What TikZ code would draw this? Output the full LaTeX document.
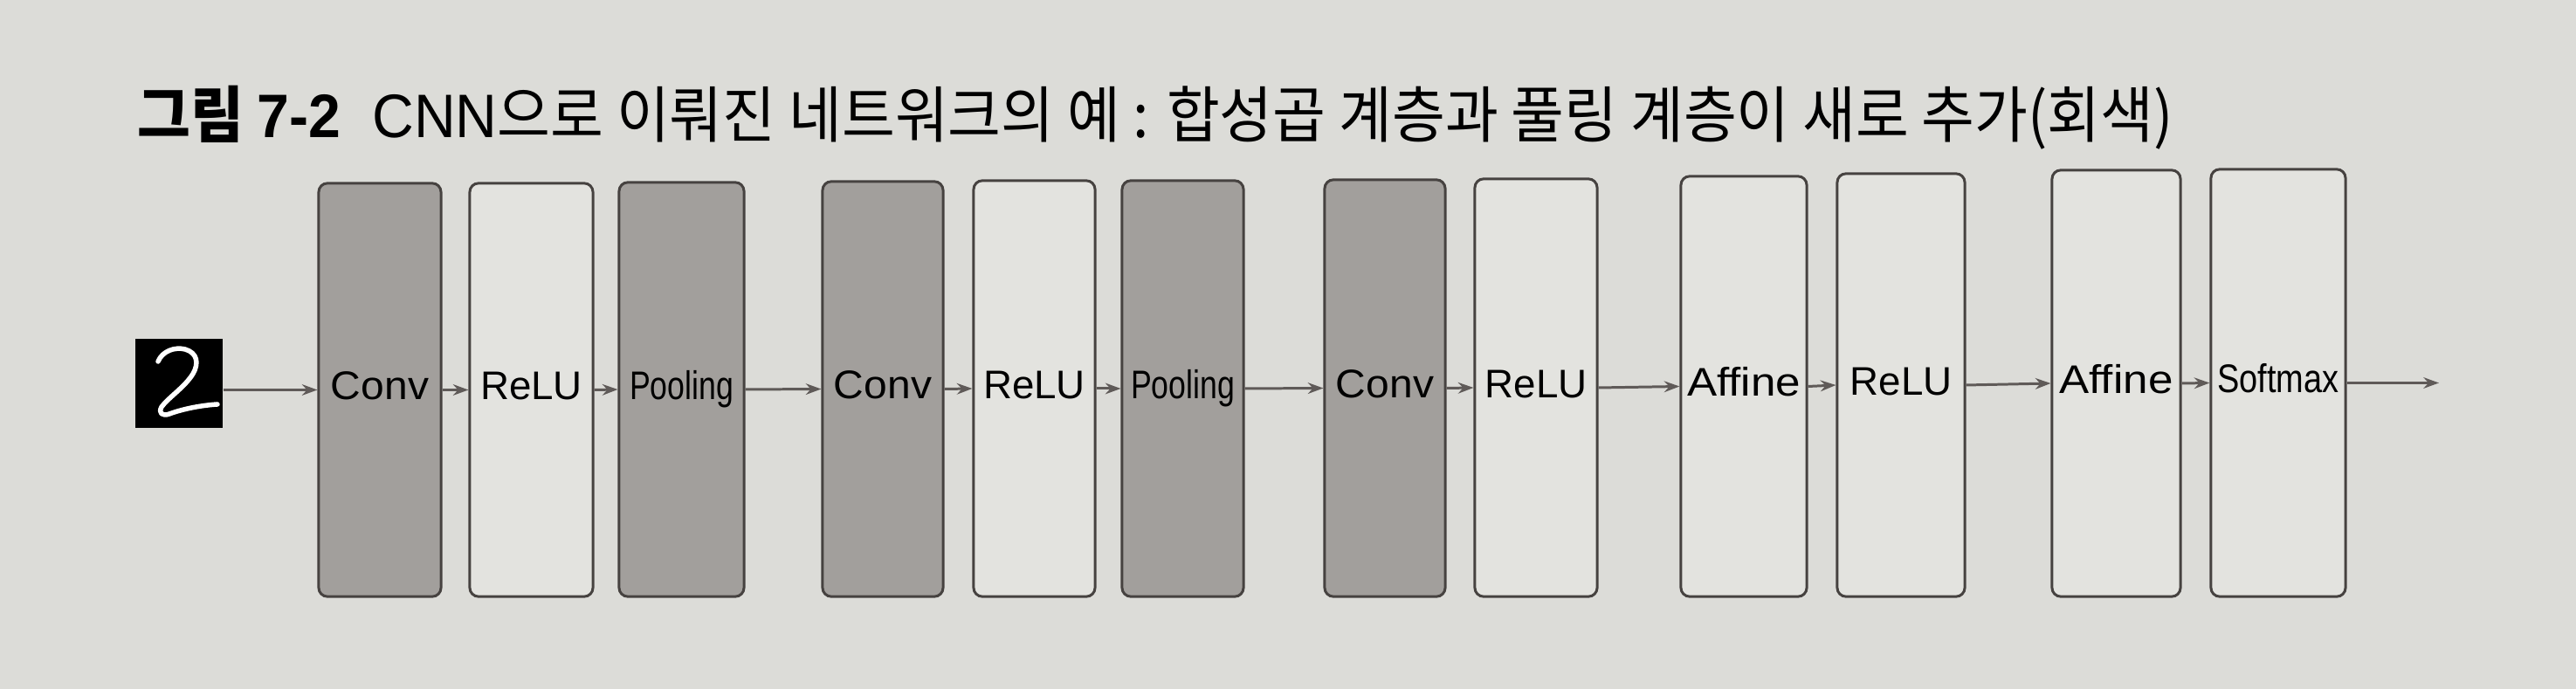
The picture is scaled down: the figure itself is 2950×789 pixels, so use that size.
\documentclass[tikz,border=0pt]{standalone}
\usepackage{fontspec}
\usetikzlibrary{arrows.meta}
\newfontfamily\krfont{Noto Sans CJK KR}
\newfontfamily\labfont{Liberation Sans}[Ligatures=NoCommon]
\definecolor{paper}{RGB}{220,220,216}
\definecolor{shade}{RGB}{162,159,156}
\definecolor{pale}{RGB}{227,227,223}
\definecolor{edge}{RGB}{70,66,64}
\definecolor{wire}{RGB}{95,90,88}
\tikzset{
  layer/.style={draw=edge, line width=0.85pt, rounded corners=0.1cm, inner sep=0pt,
    text height=9.75pt, text depth=3.25pt, font=\labfont\fontsize{13pt}{15pt}\selectfont},
  graylayer/.style={layer, fill=shade},
  whitelayer/.style={layer, fill=pale},
  link/.style={draw=wire, line width=0.85pt, -{Stealth[length=5pt,width=3.6pt]}},
}
\begin{document}
\begin{tikzpicture}[x=0.01cm, y=-0.01cm]
\fill[paper] (0,0) rectangle (2950,789);
\useasboundingbox (0,0) rectangle (2950,789);

\node[anchor=base west, inner sep=0pt] (title) at (157,158)
  {\resizebox{23.3cm}{\height}{\krfont\fontsize{20pt}{24pt}\selectfont
   {\bfseries 그림 {\labfont 7-2}}\hspace{0.55em}{\labfont CNN}으로 이뤄진 네트워크의 예 : 합성곱 계층과 풀링 계층이 새로 추가(회색)}};

% input image
\node[fill=black, inner sep=0pt, minimum width=1cm, minimum height=1.02cm] (in) at (205,439) {};
\draw[white, line width=0.055cm, line cap=round, line join=round]
  (181,414) .. controls (186,402) and (200,397) .. (212,400)
  .. controls (226,404) and (228,416) .. (221,428)
  .. controls (212,443) and (192,456) .. (185,466)
  .. controls (181,473) and (186,477) .. (194,474)
  .. controls (210,468) and (232,464) .. (249,463);

% layers
\node[graylayer, minimum width=1.40cm, minimum height=4.73cm] (c1) at (435,446.5) {\scalebox{1.05}[1]{Conv}};
\node[whitelayer, minimum width=1.41cm, minimum height=4.73cm] (r1) at (608.5,446.5) {ReLU};
\node[graylayer, minimum width=1.43cm, minimum height=4.74cm] (p1) at (780.5,446) {\scalebox{0.78}[1]{Pooling}};
\node[graylayer, minimum width=1.38cm, minimum height=4.75cm] (c2) at (1011,445.5) {\scalebox{1.05}[1]{Conv}};
\node[whitelayer, minimum width=1.39cm, minimum height=4.76cm] (r2) at (1184.5,445) {ReLU};
\node[graylayer, minimum width=1.39cm, minimum height=4.76cm] (p2) at (1354.5,445) {\scalebox{0.78}[1]{Pooling}};
\node[graylayer, minimum width=1.38cm, minimum height=4.77cm] (c3) at (1586,444.5) {\scalebox{1.05}[1]{Conv}};
\node[whitelayer, minimum width=1.40cm, minimum height=4.78cm] (r3) at (1759,444) {ReLU};
\node[whitelayer, minimum width=1.44cm, minimum height=4.81cm] (a1) at (1997,442.5) {\scalebox{1.12}[1]{Affine}};
\node[whitelayer, minimum width=1.46cm, minimum height=4.84cm] (r4) at (2177,441) {ReLU};
\node[whitelayer, minimum width=1.47cm, minimum height=4.88cm] (a2) at (2423.5,439) {\scalebox{1.12}[1]{Affine}};
\node[whitelayer, minimum width=1.54cm, minimum height=4.89cm] (sm) at (2609,438.5) {\scalebox{0.83}[1]{Softmax}};
\coordinate (out) at (2793,438.5);

% connectors
\draw[link] (c1.west -| in.east) -- (c1.west);
\draw[link] (c1.east) -- (r1.west);
\draw[link] (r1.east) -- (p1.west);
\draw[link] (p1.east) -- (c2.west);
\draw[link] (c2.east) -- (r2.west);
\draw[link] (r2.east) -- (p2.west);
\draw[link] (p2.east) -- (c3.west);
\draw[link] (c3.east) -- (r3.west);
\draw[link] (r3.east) -- (a1.west);
\draw[link] (a1.east) -- (r4.west);
\draw[link] (r4.east) -- (a2.west);
\draw[link] (a2.east) -- (sm.west);
\draw[link] (sm.east) -- (out);
\end{tikzpicture}
\end{document}
